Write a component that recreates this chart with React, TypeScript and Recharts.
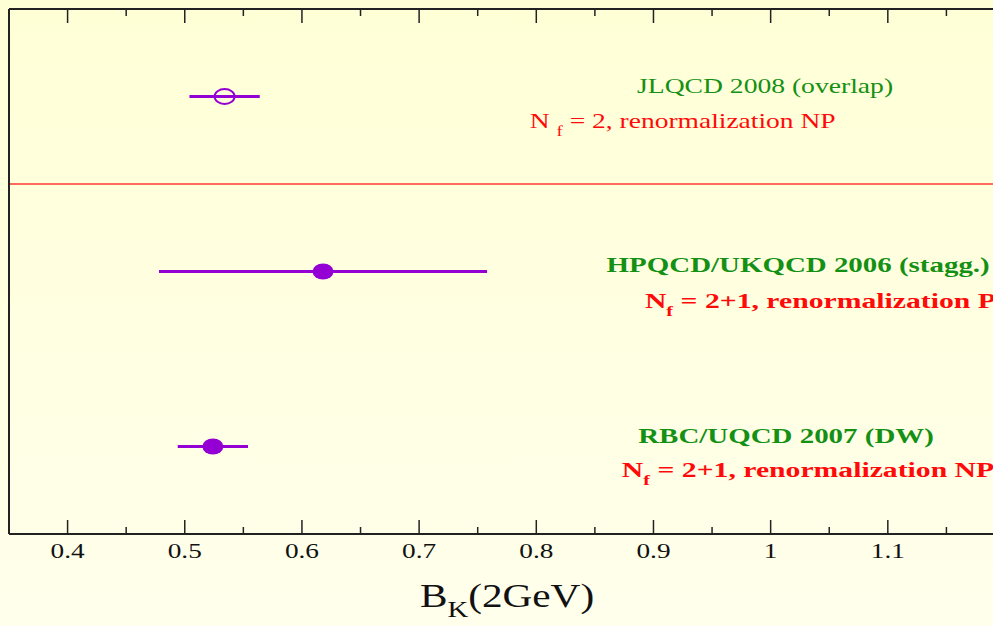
import React from "react";
import { ScatterChart, Scatter, XAxis, YAxis, ErrorBar, ReferenceLine } from "recharts";

const collaborations = ["JLQCD 2008 (overlap)", "HPQCD/UKQCD 2006 (stagg.)", "RBC/UQCD 2007 (DW)"];
const bkValues = [0.534, 0.618, 0.524];
const bkErrors = [0.03, 0.14, 0.03];
const rowPositions = [5, 3, 1];
const openMarker = [true, false, false];
const nfLabels = ["2", "2+1", "2+1"];
const renormLabels = ["NP", "P", "NP"];
const boldText = [false, true, true];

// where the annotation text starts, in data units
const titleX = [0.886, 0.86, 0.887];
const titleY = [5.04, 2.994, 1.04];
const noteX = [0.7945, 0.8927, 0.873];
const noteY = [4.64, 2.583, 0.651];

const majorTicks = [0.4, 0.5, 0.6, 0.7, 0.8, 0.9, 1.0, 1.1];
const minorTicks = [0.45, 0.55, 0.65, 0.75, 0.85, 0.95, 1.05, 1.15];
const yTicks = [0, 0.5, 1, 1.5, 2, 2.5, 3, 3.5, 4, 4.5, 5, 5.5, 6];
const separatorY = 4;

const PURPLE = "#9400d3";
const GREEN = "#149014";
const RED = "#ff0a0a";
const AXIS = "#222";
const FONT = '"Liberation Serif", "Times New Roman", serif';

const allXTicks = [...majorTicks, ...minorTicks].sort((a, b) => a - b);
const isMajor = (v: number) => majorTicks.some((m) => Math.abs(m - v) < 1e-6);

const points = collaborations.map((name, i) => ({
  name,
  x: bkValues[i],
  y: rowPositions[i],
  err: bkErrors[i],
  open: openMarker[i],
}));

const titles = collaborations.map((name, i) => ({
  x: titleX[i],
  y: titleY[i],
  text: name,
  bold: boldText[i],
}));

const notes = nfLabels.map((nf, i) => ({
  x: noteX[i],
  y: noteY[i],
  nf,
  renorm: renormLabels[i],
  bold: boldText[i],
}));

// the original figure is stretched sideways, so the text is too
const stretch = (x: number, y: number, s: number) => `translate(${x},${y}) scale(${s},1)`;

function BottomTick(props: any) {
  const { x, y, payload } = props;
  const v = payload.value as number;
  const major = isMajor(v);
  return (
    <g>
      <line x1={x} x2={x} y1={y} y2={y - (major ? 14 : 7)} stroke={AXIS} strokeWidth={1.5} />
      {major && (
        <text transform={stretch(x, y + 24, 1.3)} textAnchor="middle" fontFamily={FONT} fontSize={21} fill="#111">
          {String(Math.round(v * 10) / 10)}
        </text>
      )}
    </g>
  );
}

function TopTick(props: any) {
  const { x, y, payload } = props;
  const major = isMajor(payload.value);
  return <line x1={x} x2={x} y1={y} y2={y + (major ? 14 : 7)} stroke={AXIS} strokeWidth={1.5} />;
}

function Marker(props: any) {
  const { cx, cy, payload } = props;
  if (payload.open) {
    return <ellipse cx={cx} cy={cy} rx={10} ry={7.5} fill="none" stroke={PURPLE} strokeWidth={2} />;
  }
  return <ellipse cx={cx} cy={cy} rx={10.5} ry={8} fill={PURPLE} />;
}

function TitleText(props: any) {
  const { cx, cy, payload } = props;
  return (
    <text
      transform={stretch(cx, cy, payload.bold ? 1.315 : 1.255)}
      fontFamily={FONT}
      fontSize={22}
      fontWeight={payload.bold ? "bold" : "normal"}
      fill={GREEN}
    >
      {payload.text}
    </text>
  );
}

function NoteText(props: any) {
  const { cx, cy, payload } = props;
  return (
    <text
      transform={stretch(cx, cy, payload.bold ? 1.35 : 1.25)}
      fontFamily={FONT}
      fontSize={22}
      fontWeight={payload.bold ? "bold" : "normal"}
      fill={RED}
    >
      {payload.bold ? "N" : "N "}
      <tspan fontSize={15} dy={8}>f</tspan>
      <tspan dy={-8}>{` = ${payload.nf}, renormalization ${payload.renorm}`}</tspan>
    </text>
  );
}

function AxisTitle(props: any) {
  const { viewBox } = props;
  const cx = viewBox.x + viewBox.width / 2;
  return (
    <text transform={stretch(cx, viewBox.y + 73, 1.25)} textAnchor="middle" fontFamily={FONT} fontSize={33} fill="#111">
      B<tspan fontSize={23} dy={10}>K</tspan>
      <tspan dy={-10}>(2GeV)</tspan>
    </text>
  );
}

export default function App() {
  return (
    <div
      style={{
        position: "fixed",
        left: 0,
        top: 0,
        width: 993,
        height: 626,
        overflow: "hidden",
        background: "linear-gradient(#ffffd6, #ffffec)",
      }}
    >
      <ScatterChart width={1010} height={626} margin={{ top: 8, right: 5, bottom: 0, left: 0 }}>
        <XAxis
          type="number"
          dataKey="x"
          domain={[0.35, 1.2]}
          ticks={allXTicks}
          interval={0}
          height={92}
          tickLine={false}
          tickSize={0}
          tickMargin={0}
          tick={<BottomTick />}
          axisLine={{ stroke: AXIS, strokeWidth: 2 }}
          allowDataOverflow
          label={<AxisTitle />}
        />
        <XAxis
          xAxisId="top"
          orientation="top"
          type="number"
          dataKey="x"
          domain={[0.35, 1.2]}
          ticks={allXTicks}
          interval={0}
          height={1}
          tickLine={false}
          tickSize={0}
          tickMargin={0}
          tick={<TopTick />}
          axisLine={{ stroke: AXIS, strokeWidth: 2 }}
          allowDataOverflow
        />
        <YAxis
          type="number"
          dataKey="y"
          domain={[0, 6]}
          ticks={yTicks}
          interval={0}
          width={9}
          tick={false}
          tickSize={2}
          tickLine={{ stroke: AXIS, strokeWidth: 1 }}
          axisLine={{ stroke: AXIS, strokeWidth: 2 }}
          allowDataOverflow
        />
        <ReferenceLine y={separatorY} stroke="#ff6a5a" strokeWidth={2} />
        <Scatter data={points} shape={<Marker />} isAnimationActive={false}>
          <ErrorBar dataKey="err" direction="x" width={0} stroke={PURPLE} strokeWidth={3} isAnimationActive={false} />
        </Scatter>
        <Scatter xAxisId="top" data={titles} shape={<TitleText />} isAnimationActive={false} />
        <Scatter xAxisId="top" data={notes} shape={<NoteText />} isAnimationActive={false} />
      </ScatterChart>
    </div>
  );
}
